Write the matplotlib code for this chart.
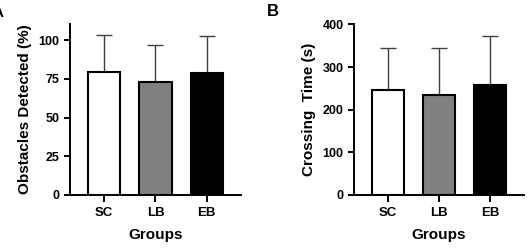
import numpy as np
import matplotlib.pyplot as plt

groups = ["SC", "LB", "EB"]
obstacles_mean = [79.5, 72.8, 78.6]
obstacles_sd = [24.0, 24.2, 24.4]
crossing_mean = [247, 235, 258]
crossing_sd = [98, 110, 116]
bar_colors = ["white", "#808080", "black"]

plt.rcParams["font.family"] = ["Liberation Sans", "DejaVu Sans"]
plt.rcParams["font.weight"] = "bold"

fig = plt.figure(figsize=(5.31, 2.52), dpi=100)
ax_a = fig.add_axes([0.1318, 0.2262, 0.322, 0.6786])
ax_b = fig.add_axes([0.6667, 0.2262, 0.320, 0.6786])


def draw_panel(ax, means, sds, ylabel, yticks, ylim):
    x = np.arange(len(groups))
    ax.bar(x, means, width=0.63, color=bar_colors, edgecolor="black",
           linewidth=1.5, zorder=2)
    ax.errorbar(x, means, yerr=[np.zeros(len(sds)), sds], fmt="none",
                ecolor="#404040", elinewidth=1.0, capsize=5.8, capthick=1.0,
                zorder=1)
    ax.set_xlim(-0.67, 2.67)
    ax.set_ylim(*ylim)
    ax.set_yticks(yticks)
    ax.set_xticks(x)
    ax.set_xticklabels(groups, fontsize=9.5, fontweight="bold")
    ax.tick_params(axis="y", labelsize=9, width=1.4, length=4)
    ax.tick_params(axis="x", width=1.4, length=5, pad=4)
    for lbl in ax.get_yticklabels():
        lbl.set_fontweight("bold")
    for side in ["top", "right"]:
        ax.spines[side].set_visible(False)
    for side in ["left", "bottom"]:
        ax.spines[side].set_linewidth(1.4)
    ax.set_ylabel(ylabel, fontsize=11, fontweight="bold", labelpad=5)
    ax.set_xlabel("Groups", fontsize=11, fontweight="bold", labelpad=6)


draw_panel(ax_a, obstacles_mean, obstacles_sd, "Obstacles Detected (%)",
           [0, 25, 50, 75, 100], (0, 110.5))
draw_panel(ax_b, crossing_mean, crossing_sd, "Crossing  Time (s)",
           [0, 100, 200, 300, 400], (0, 401))

fig.text(-0.013, 0.95, "A", fontsize=11, fontweight="bold", va="center")
fig.text(0.502, 0.955, "B", fontsize=12, fontweight="bold", va="center")

fig.savefig("out.png", dpi=100)
